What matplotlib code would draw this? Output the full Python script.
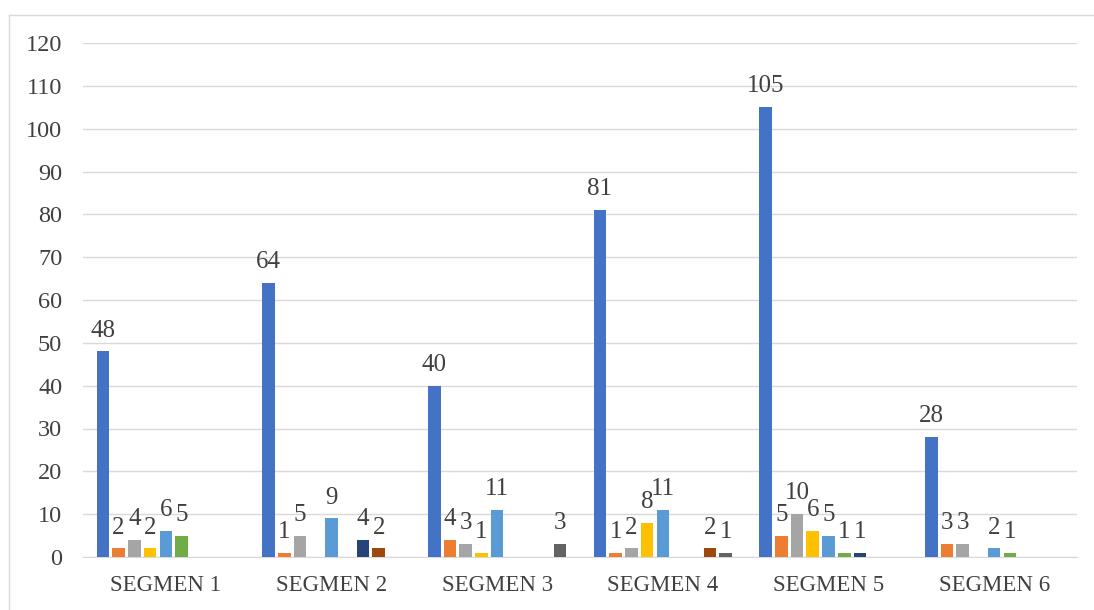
import numpy as np
import matplotlib.pyplot as plt
from matplotlib.lines import Line2D

plt.rcParams['font.family'] = ['Liberation Serif', 'DejaVu Serif']

segments = ['SEGMEN 1', 'SEGMEN 2', 'SEGMEN 3', 'SEGMEN 4', 'SEGMEN 5', 'SEGMEN 6']

# one list per series, one value per segment (None = no bar)
s1 = [48, 64, 40, 81, 105, 28]
s2 = [2, 1, 4, 1, 5, 3]
s3 = [4, 5, 3, 2, 10, 3]
s4 = [2, None, 1, 8, 6, None]
s5 = [6, 9, 11, 11, 5, 2]
s6 = [5, None, None, None, 1, 1]
s7 = [None, 4, None, None, 1, None]
s8 = [None, 2, None, 2, None, None]
s9 = [None, None, 3, 1, None, None]

series = [s1, s2, s3, s4, s5, s6, s7, s8, s9]
colors = ['#4472C4', '#ED7D31', '#A5A5A5', '#FFC000', '#5B9BD5',
          '#70AD47', '#264478', '#9E480E', '#636363']

W, H = 1094, 610
fig = plt.figure(figsize=(W / 100, H / 100), dpi=100)
ax = fig.add_axes([83 / W, 1 - 557 / H, (1077 - 83) / W, (557 - 43) / H])

# chart frame (top and left edges visible)
fig.add_artist(Line2D([8.5 / W, 8.5 / W], [0, 1 - 14.5 / H],
                      transform=fig.transFigure, color='#D9D9D9', lw=1))
fig.add_artist(Line2D([8.5 / W, 1], [1 - 14.5 / H, 1 - 14.5 / H],
                      transform=fig.transFigure, color='#D9D9D9', lw=1))

x = np.arange(len(segments))
n = len(series)
slot = 0.095
width = 0.076

for i, (vals, c) in enumerate(zip(series, colors)):
    offs = (i - (n - 1) / 2) * slot
    for xi, v in zip(x, vals):
        if v is None:
            continue
        ax.bar(xi + offs, v, width=width, color=c, zorder=3)
        ax.text(xi + offs, v + 2.3, str(v), ha='center', va='bottom',
                fontsize=18, color='#404040', zorder=4)

ax.set_xlim(-0.5, len(segments) - 0.5)
ax.set_ylim(0, 120)
ax.set_yticks(range(0, 121, 10))
ax.set_xticks(x)
ax.set_xticklabels(segments, fontsize=16.5)
ax.tick_params(axis='both', length=0, colors='#404040')
ax.tick_params(axis='y', labelsize=17.5, pad=15)
ax.tick_params(axis='x', pad=13)
ax.grid(axis='y', color='#D9D9D9', linewidth=1, zorder=0)
for side in ['top', 'right', 'left']:
    ax.spines[side].set_visible(False)
ax.spines['bottom'].set_color('#D9D9D9')

fig.savefig('out.png', dpi=100)
